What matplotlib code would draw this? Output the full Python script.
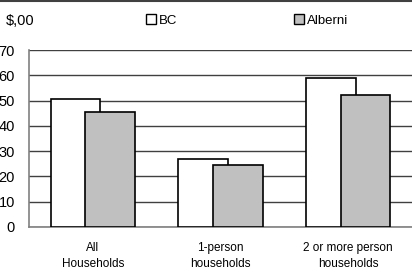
import matplotlib.pyplot as plt
import numpy as np
from matplotlib.lines import Line2D

categories = ["All\nHouseholds", "1-person\nhouseholds", "2 or more person\nhouseholds"]
bc = [50.8, 26.8, 58.8]
alberni = [45.4, 24.5, 52.4]
yticks = [0, 10, 20, 30, 40, 50, 60, 70]

plt.rcParams['font.family'] = ['Liberation Sans', 'DejaVu Sans']

fig = plt.figure(figsize=(4.12, 2.75), dpi=100)
ax = fig.add_axes([29/412, 48/275, 383/412, 177/275])

x = np.arange(len(categories))
w = 0.39
ax.bar(x - 0.135, bc, w, color='white', edgecolor='black', linewidth=1.2, zorder=3)
ax.bar(x + 0.135, alberni, w, color='#c0c0c0', edgecolor='black', linewidth=1.2, zorder=4)

ax.set_xlim(-0.5, 2.5)
ax.set_ylim(0, 70)
ax.set_yticks(yticks)
ax.set_yticklabels([str(v) for v in yticks], fontsize=10.5)
ax.tick_params(axis='y', length=0, pad=10)
ax.set_xticks(x)
ax.set_xticklabels(categories, fontsize=8.5, linespacing=1.4)
ax.tick_params(axis='x', length=0, pad=11)
ax.grid(axis='y', color='#404040', linewidth=1)
ax.set_axisbelow(True)
for s in ['top', 'right']:
    ax.spines[s].set_visible(False)
ax.spines['left'].set_color('#808080')
ax.spines['bottom'].set_color('#808080')
ax.spines['left'].set_linewidth(1.2)
ax.spines['bottom'].set_linewidth(1.2)

fig.text(6/412, 1 - 21/275, "$,00", fontsize=10.5, va='center', ha='left')
h_bc = Line2D([], [], marker='s', linestyle='none', markersize=7.5,
              markerfacecolor='white', markeredgecolor='black', markeredgewidth=1)
h_al = Line2D([], [], marker='s', linestyle='none', markersize=7.5,
              markerfacecolor='#c0c0c0', markeredgecolor='black', markeredgewidth=1)
fig.legend([h_bc], ["BC"], loc='center left', bbox_to_anchor=(146/412, 1 - 21/275),
           frameon=False, fontsize=9.5, handlelength=0.8, handletextpad=0.15,
           borderpad=0, borderaxespad=0)
fig.legend([h_al], ["Alberni"], loc='center left', bbox_to_anchor=(294/412, 1 - 21/275),
           frameon=False, fontsize=9.5, handlelength=0.8, handletextpad=0.15,
           borderpad=0, borderaxespad=0)

fig.add_artist(Line2D([0, 1], [0.998, 0.998], color='#404040', linewidth=1.5))

fig.savefig("out.png", dpi=100)
